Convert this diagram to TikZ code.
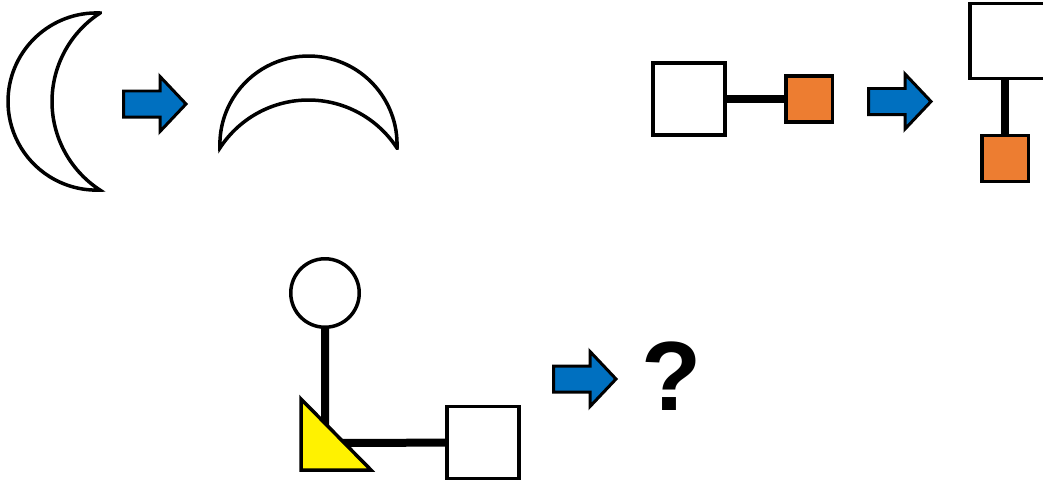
\documentclass[tikz,border=0pt]{standalone}
\usepackage{fontspec}
\setmainfont{Liberation Sans}
\usetikzlibrary{positioning}
\definecolor{arrowblue}{HTML}{0070C0}
\definecolor{tileorange}{HTML}{ED7D31}

\begin{document}
\begin{tikzpicture}[x=0.02cm, y=0.02cm, line join=miter,
  outline/.style={line width=0.07cm},
  bigbox/.style={draw, outline, fill=white, minimum size=1.44cm, inner sep=0},
  smallbox/.style={draw, outline, fill=tileorange, minimum size=0.93cm, inner sep=0},
  link/.style={line width=0.16cm},
  blockarrow/.pic={\draw[line width=0.06cm, fill=arrowblue] (-2,0) -- (-28,27.5) -- (-28,13) -- (-64.5,13) -- (-64.5,-13) -- (-28,-13) -- (-28,-27.5) -- cycle;},
  crescent/.pic={\draw[outline, fill=white] (0,88.5) arc[start angle=87.8, end angle=272.2, radius=88.6] arc[start angle=236.94, end angle=123.06, radius=105.6] -- cycle;}]
\useasboundingbox (0,0) rectangle (1043,-483);

% moon turns over
\pic at (100,-101.5) {crescent};
\pic at (188,-104) {blockarrow};
\pic[rotate=-90] at (308.5,-148) {crescent};

% box with tile, turned down
\node[bigbox] (boxA) at (689,-99) {};
\node[smallbox, right=1.15cm of boxA] (tileA) {};
\draw[link] (boxA) -- (tileA);
\pic at (933,-101.5) {blockarrow};
\node[bigbox, minimum height=1.5cm, minimum width=1.6cm] (boxB) at (1010,-41) {};
\node[smallbox] (tileB) at (1005,-158.5) {};
\draw[link] (tileB) -- (tileB |- boxB.south);

% the question
\node[draw, outline, circle, fill=white, minimum size=1.37cm, inner sep=0] (ring) at (325,-293) {};
\coordinate (joint) at (325,-443);
\node[bigbox] (boxC) at (483,-442.5) {};
\draw[link] (ring) -- (joint) -- (boxC);
\draw[outline, fill=yellow] (301,-399) -- (301,-470) -- (371,-470) -- cycle;
\pic at (618,-379) {blockarrow};
\node[font=\bfseries\fontsize{56}{60}\selectfont, inner sep=0] (query) at (672,-376) {?};
\end{tikzpicture}
\end{document}
